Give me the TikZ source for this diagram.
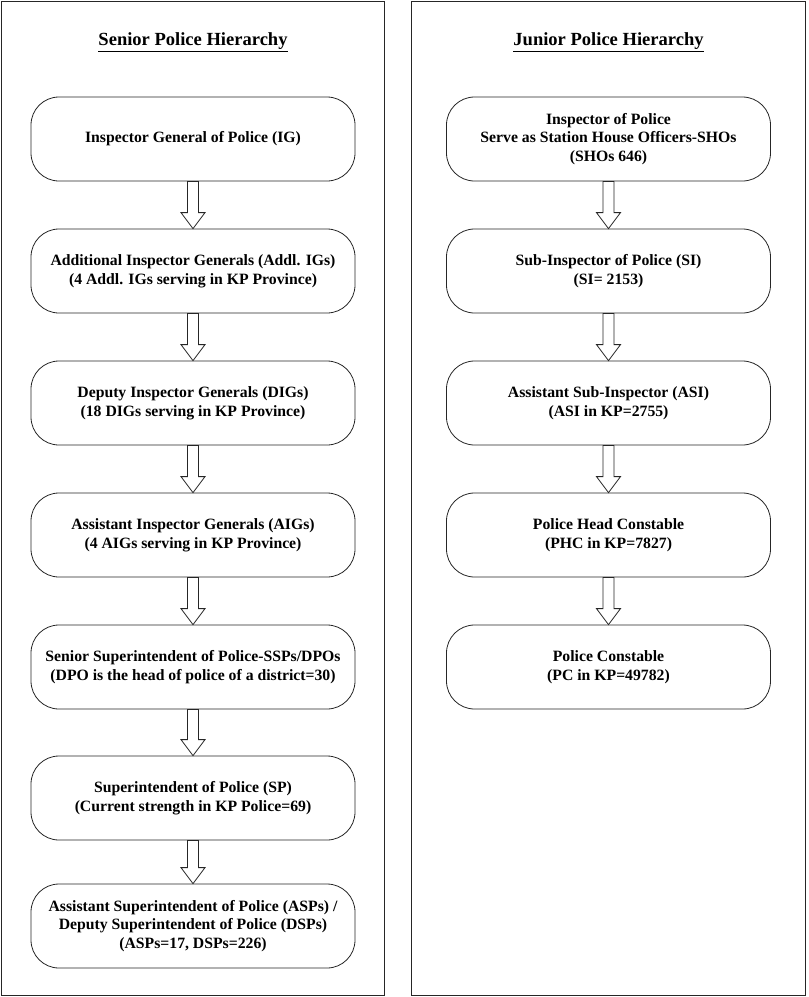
\documentclass[tikz,border=0pt]{standalone}
\usepackage{fontspec}
\setmainfont{Liberation Serif}
\usetikzlibrary{calc}

\tikzset{
	rank/.style={draw=black!85, line width=0.6pt, rounded corners=21pt, minimum width=243pt, minimum height=63pt, inner sep=2pt, align=center, font=\fontsize{11.8}{14}\selectfont\bfseries},
	heading/.style={font=\fontsize{13.9}{16}\selectfont\bfseries},
	panel/.style={draw=black!85, line width=0.6pt},
	hollow/.style={draw=black!85, line width=0.6pt, fill=white}
}

\begin{document}
\begin{tikzpicture}[x=0.75pt,y=-0.75pt]

		\useasboundingbox (0,0) rectangle (808,997);

		% the two panels
		\draw[panel] (1,1) rectangle (384,995);
		\draw[panel] (411,1) rectangle (805,995);

		\node[heading] (seniorhead) at (193,42) {\underline{Senior Police Hierarchy}};
		\node[heading] (juniorhead) at (608.5,42) {\underline{Junior Police Hierarchy}};

		% senior ranks
		\node[rank] (ig) at (193,139) {Inspector General of Police (IG)};
		\node[rank] (addlig) at (193,271) {Additional Inspector Generals (Addl. IGs)\\(4 Addl. IGs serving in KP Province)};
		\node[rank] (dig) at (193,403) {Deputy Inspector Generals (DIGs)\\(18 DIGs serving in KP Province)};
		\node[rank] (aig) at (193,535) {Assistant Inspector Generals (AIGs)\\(4 AIGs serving in KP Province)};
		\node[rank] (ssp) at (193,667) {Senior Superintendent of Police-SSPs/DPOs\\(DPO is the head of police of a district=30)};
		\node[rank] (sp) at (193,798) {Superintendent of Police (SP)\\(Current strength in KP Police=69)};
		\node[rank] (asp) at (193,926) {Assistant Superintendent of Police (ASPs) /\\Deputy Superintendent of Police (DSPs)\\(ASPs=17, DSPs=226)};

		% junior ranks
		\node[rank] (insp) at (608.5,139) {Inspector of Police\\Serve as Station House Officers-SHOs\\(SHOs 646)};
		\node[rank] (si) at (608.5,271) {Sub-Inspector of Police (SI)\\(SI= 2153)};
		\node[rank] (asi) at (608.5,403) {Assistant Sub-Inspector (ASI)\\(ASI in KP=2755)};
		\node[rank] (phc) at (608.5,535) {Police Head Constable\\(PHC in KP=7827)};
		\node[rank] (pc) at (608.5,667) {Police Constable\\(PC in KP=49782)};

		% hollow arrows
		\foreach \a/\b in {ig/addlig,addlig/dig,dig/aig,aig/ssp,ssp/sp,sp/asp,insp/si,si/asi,asi/phc,phc/pc}{
			\draw[hollow] ($(\a.south)+(-5.5,0)$) -- ($(\b.north)+(-5.5,-16)$) -- ($(\b.north)+(-12,-16)$) -- (\b.north)
				-- ($(\b.north)+(12,-16)$) -- ($(\b.north)+(5.5,-16)$) -- ($(\a.south)+(5.5,0)$) -- cycle;
		}

	\end{tikzpicture}
\end{document}
